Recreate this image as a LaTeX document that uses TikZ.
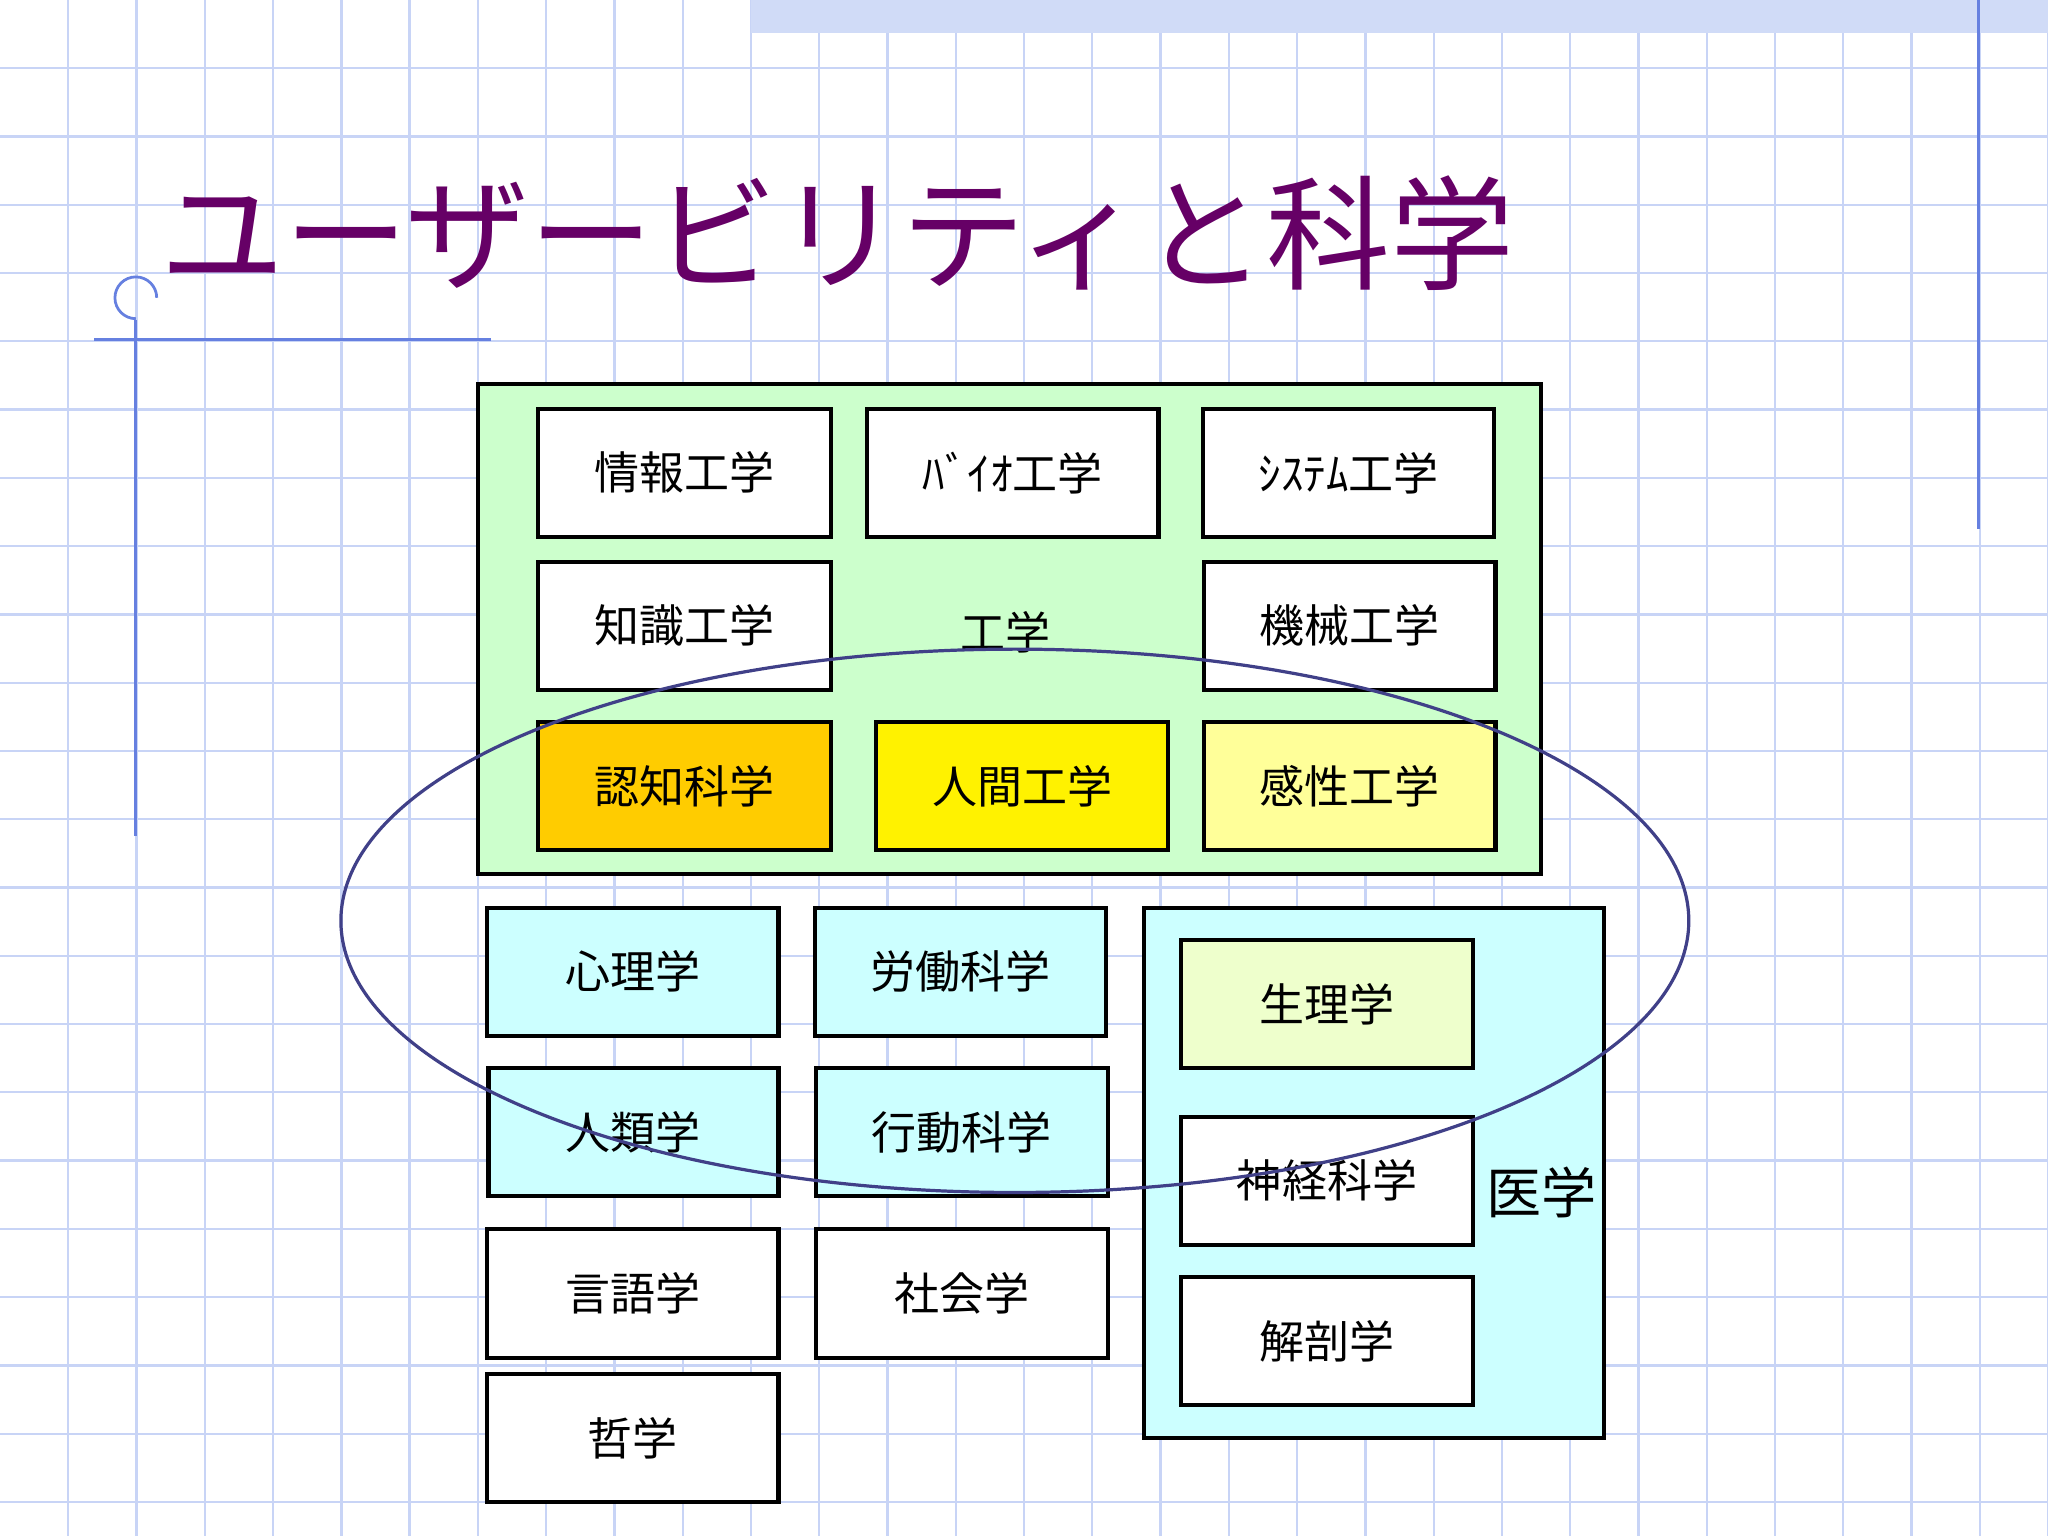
\documentclass[tikz,border=0pt]{standalone}
\usepackage{fontspec}
\newfontfamily\jp{Noto Sans CJK JP}
\definecolor{gridc}{HTML}{C8D4F6}
\definecolor{deco}{HTML}{6680E0}
\definecolor{titlec}{HTML}{660066}
\definecolor{engc}{HTML}{CCFFCC}
\definecolor{cyanc}{HTML}{CCFFFF}
\definecolor{orangec}{HTML}{FFCC00}
\definecolor{paley}{HTML}{FFFF99}
\definecolor{paleg}{HTML}{EEFFCC}
\definecolor{ellc}{HTML}{404088}
\tikzset{
  bx/.style={draw=black,line width=0.9pt,fill=white,font=\jp\fontsize{9.8}{11}\selectfont},
  grp/.style={draw=black,line width=0.9pt}
}
\newcommand{\bbox}[5]{\draw[bx,fill=#5] (#1) rectangle (#2) node[midway,text=black] (#3) {#4};}
\begin{document}
\begin{tikzpicture}[x=0.01cm,y=-0.01cm]
\useasboundingbox (0,0) rectangle (1568,1176);
\fill[white] (0,0) rectangle (1568,1176);
% grid
\foreach \i in {1,...,30} {\draw[gridc,line width=0.5pt] (52.27*\i,0) -- (52.27*\i,1176);}
\foreach \j in {1,...,22} {\draw[gridc,line width=0.5pt] (0,52.27*\j) -- (1568,52.27*\j);}
% top band
\fill[gridc!85] (575,0) rectangle (1568,25);
\draw[deco,line width=0.6pt] (1515,0) -- (1515,405);
% title decoration
\draw[deco,line width=0.6pt] (72,260) -- (376,260);
\draw[deco,line width=0.6pt] (104,245) -- (104,640);
\draw[deco,line width=0.6pt] (104,244) arc[start angle=90,end angle=360,radius=16];
% title
\node[anchor=base west,inner sep=0,text=titlec,font=\jp\fontsize{27}{30}\selectfont] (title) at (122,215) {ユーザービリティと科学};
% engineering group
\draw[grp,fill=engc] (366,294) rectangle (1180,669);
\node[font=\jp\fontsize{9.8}{11}\selectfont] (kogaku) at (770,484) {工学};
\bbox{412,313}{636,411}{a1}{情報工学}{white}
\bbox{664,313}{887,411}{a2}{ﾊﾞｲｵ工学}{white}
\bbox{921,313}{1144,411}{a3}{ｼｽﾃﾑ工学}{white}
\bbox{412,430}{636,528}{b1}{知識工学}{white}
\bbox{922,430}{1145,528}{b3}{機械工学}{white}
\bbox{412,553}{636,651}{c1}{認知科学}{orangec}
\bbox{671,553}{894,651}{c2}{人間工学}{yellow}
\bbox{922,553}{1145,651}{c3}{感性工学}{paley}
% sciences
\bbox{373,695}{596,793}{d1}{心理学}{cyanc}
\bbox{624,695}{847,793}{d2}{労働科学}{cyanc}
\bbox{374,818}{596,916}{e1}{人類学}{cyanc}
\bbox{625,818}{848,916}{e2}{行動科学}{cyanc}
\bbox{373,941}{596,1040}{f1}{言語学}{white}
\bbox{625,941}{848,1040}{f2}{社会学}{white}
\bbox{373,1052}{596,1150}{g1}{哲学}{white}
% medicine
\draw[grp,fill=cyanc] (876,695) rectangle (1228,1101);
\node[font=\jp\fontsize{12}{14}\selectfont] (igaku) at (1180,913) {医学};
\bbox{904,720}{1128,818}{m1}{生理学}{paleg}
\bbox{904,855}{1128,953}{m2}{神経科学}{white}
\bbox{904,978}{1128,1076}{m3}{解剖学}{white}
% ellipse
\draw[ellc,line width=0.7pt] (777,705) ellipse[x radius=516,y radius=208];
\end{tikzpicture}
\end{document}
